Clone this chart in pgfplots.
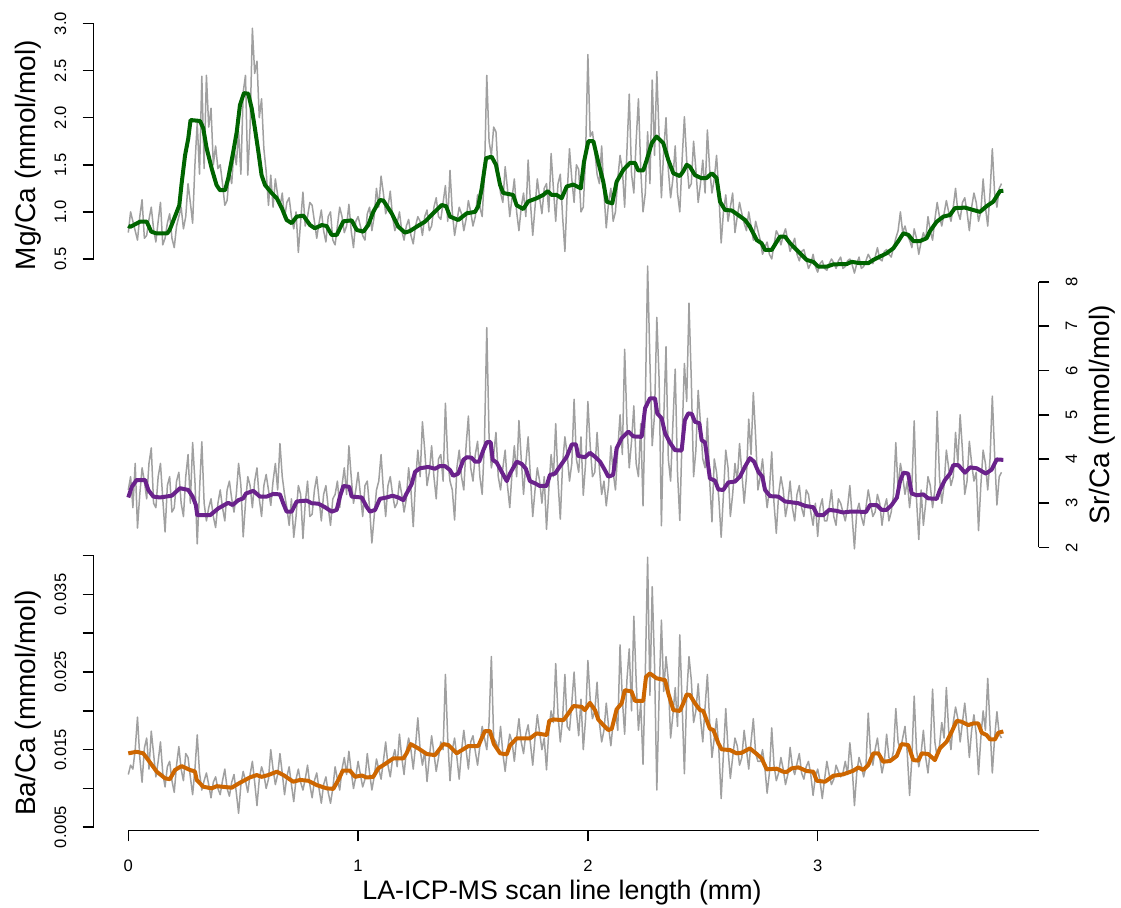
\documentclass[border=0pt]{standalone}
\usepackage{pgfplots}
\pgfplotsset{compat=1.18}
\usepackage{fontspec}
\setmainfont{Liberation Sans}
\definecolor{mggreen}{HTML}{006400}
\definecolor{srpurple}{HTML}{6A228B}
\definecolor{baorange}{HTML}{CD6600}
\definecolor{rawgrey}{HTML}{A0A0A0}
\pgfplotsset{
  base/.style={
    scale only axis, clip=false, enlargelimits=false,
    axis line style={-, line width=0.8pt, black},
    tick style={line width=0.8pt, black},
    major tick length=5.4pt,
    tick align=outside,
    ticklabel style={font=\fontsize{8.3}{10}\selectfont},
  },
  greyline/.style={rawgrey, line width=0.75pt, mark=none, line join=round},
  smoothline/.style={line width=2pt, mark=none, line join=round},
}
\begin{document}
\begin{tikzpicture}
\useasboundingbox (0,0) rectangle (560.5pt,454pt);
% ---------------- Mg/Ca ----------------
\begin{axis}[base,
  at={(46.75pt,324.5pt)}, anchor=south west,
  width=472.5pt, height=117.75pt,
  xmin=-0.1514, xmax=3.961, ymin=0.5, ymax=3.0,
  axis x line=none, axis y line*=left,
  ytick={0.5,1.0,1.5,2.0,2.5,3.0},
  yticklabels={\mbox{0.5},\mbox{1.0},\mbox{1.5},\mbox{2.0},\mbox{2.5},\mbox{3.0}},
  yticklabel style={rotate=90, anchor=south, inner sep=0pt},
  yticklabel shift=8pt,
]
\addplot[greyline] coordinates {
(0.00,0.78)(0.01,1.00)(0.02,0.90)(0.03,0.80)(0.04,0.70)(0.05,0.95)(0.06,1.13)(0.07,0.72)(0.08,0.75)(0.09,0.92)
(0.10,1.05)(0.11,0.82)(0.12,0.68)(0.13,0.90)(0.14,1.10)(0.15,0.65)(0.16,0.72)(0.17,0.88)(0.18,0.98)(0.19,0.72)
(0.20,0.62)(0.21,0.85)(0.22,0.95)(0.23,1.05)(0.24,0.82)(0.25,0.95)(0.26,1.30)(0.27,1.10)(0.28,0.88)(0.29,1.50)
(0.30,1.95)(0.31,1.40)(0.32,2.44)(0.33,1.46)(0.34,2.45)(0.35,1.90)(0.36,2.10)(0.37,1.50)(0.38,1.70)(0.39,1.46)
(0.40,1.50)(0.41,1.30)(0.42,1.07)(0.43,1.12)(0.44,1.43)(0.45,1.30)(0.46,1.67)(0.47,1.50)(0.48,1.85)(0.49,1.40)
(0.50,2.27)(0.51,2.45)(0.52,1.39)(0.53,1.90)(0.54,2.95)(0.55,2.47)(0.56,2.60)(0.57,2.00)(0.58,2.20)(0.59,1.67)
(0.60,1.43)(0.61,1.07)(0.62,1.39)(0.63,1.05)(0.64,1.35)(0.65,1.18)(0.66,1.05)(0.67,1.20)(0.68,0.93)(0.69,1.10)
(0.70,1.15)(0.71,0.95)(0.72,0.82)(0.73,1.00)(0.74,0.57)(0.75,0.90)(0.76,1.21)(0.77,0.85)(0.78,0.95)(0.79,1.10)
(0.80,1.07)(0.81,0.90)(0.82,0.72)(0.83,0.88)(0.84,1.02)(0.85,0.80)(0.86,0.68)(0.87,0.95)(0.88,1.00)(0.89,0.70)
(0.90,0.65)(0.91,0.85)(0.92,1.05)(0.93,0.95)(0.94,0.78)(0.95,0.85)(0.96,1.08)(0.97,0.80)(0.98,0.62)(0.99,0.90)
(1.00,0.95)(1.01,0.85)(1.02,0.75)(1.03,0.70)(1.04,0.98)(1.05,1.05)(1.06,0.80)(1.07,0.95)(1.08,1.25)(1.09,1.05)
(1.10,1.38)(1.11,1.20)(1.12,0.98)(1.13,1.05)(1.14,1.22)(1.15,0.95)(1.16,0.80)(1.17,0.88)(1.18,1.00)(1.19,0.80)
(1.20,0.70)(1.21,0.85)(1.22,0.92)(1.23,0.75)(1.24,0.66)(1.25,0.85)(1.26,0.95)(1.27,0.90)(1.28,0.75)(1.29,0.95)
(1.30,1.02)(1.31,0.80)(1.32,0.85)(1.33,1.05)(1.34,1.15)(1.35,0.95)(1.36,0.92)(1.37,1.10)(1.38,1.28)(1.39,0.90)
(1.40,1.44)(1.41,1.00)(1.42,0.75)(1.43,0.90)(1.44,1.05)(1.45,0.98)(1.46,0.80)(1.47,0.92)(1.48,1.12)(1.49,1.00)
(1.50,0.85)(1.51,0.95)(1.52,1.18)(1.53,1.05)(1.54,0.95)(1.55,1.40)(1.56,2.45)(1.57,1.75)(1.58,1.60)(1.59,1.90)
(1.60,1.85)(1.61,1.40)(1.62,1.20)(1.63,1.10)(1.64,1.48)(1.65,1.25)(1.66,0.95)(1.67,1.15)(1.68,1.35)(1.69,1.00)
(1.70,0.80)(1.71,1.05)(1.72,1.20)(1.73,0.95)(1.74,1.55)(1.75,1.10)(1.76,0.75)(1.77,1.05)(1.78,1.35)(1.79,1.15)
(1.80,0.98)(1.81,1.25)(1.82,1.30)(1.83,1.00)(1.84,1.62)(1.85,1.25)(1.86,0.90)(1.87,1.30)(1.88,1.40)(1.89,0.95)
(1.90,0.58)(1.91,1.20)(1.92,1.67)(1.93,1.35)(1.94,1.10)(1.95,1.50)(1.96,1.45)(1.97,1.00)(1.98,1.05)(1.99,1.60)
(2.00,2.67)(2.01,1.80)(2.02,1.85)(2.03,1.65)(2.04,1.40)(2.05,1.30)(2.06,1.70)(2.07,1.20)(2.08,0.83)(2.09,1.10)
(2.10,1.25)(2.11,0.90)(2.12,1.00)(2.13,1.35)(2.14,1.60)(2.15,1.45)(2.16,1.05)(2.17,1.65)(2.18,2.25)(2.19,1.40)
(2.20,1.20)(2.21,1.75)(2.22,2.20)(2.23,1.45)(2.24,1.00)(2.25,1.20)(2.26,1.85)(2.27,1.30)(2.28,2.40)(2.29,1.60)
(2.30,2.49)(2.31,1.80)(2.32,1.15)(2.33,1.65)(2.34,2.00)(2.35,1.45)(2.36,1.15)(2.37,1.35)(2.38,1.70)(2.39,1.20)
(2.40,1.00)(2.41,1.55)(2.42,2.01)(2.43,1.55)(2.44,1.25)(2.45,1.30)(2.46,1.75)(2.47,1.45)(2.48,1.10)(2.49,1.30)
(2.50,1.55)(2.51,1.20)(2.52,1.87)(2.53,1.45)(2.54,1.20)(2.55,1.35)(2.56,1.60)(2.57,1.20)(2.58,0.67)(2.59,1.00)
(2.60,1.18)(2.61,0.90)(2.62,1.05)(2.63,1.20)(2.64,0.78)(2.65,0.95)(2.66,1.10)(2.67,0.98)(2.68,0.88)(2.69,0.80)
(2.70,1.00)(2.71,0.85)(2.72,0.70)(2.73,0.90)(2.74,0.80)(2.75,0.70)(2.76,0.55)(2.77,0.62)(2.78,0.68)(2.79,0.55)
(2.80,0.50)(2.81,0.65)(2.82,0.80)(2.83,0.75)(2.84,0.65)(2.85,0.75)(2.86,0.82)(2.87,0.70)(2.88,0.58)(2.89,0.65)
(2.90,0.72)(2.91,0.55)(2.92,0.48)(2.93,0.58)(2.94,0.60)(2.95,0.50)(2.96,0.40)(2.97,0.45)(2.98,0.55)(2.99,0.42)
(3.00,0.36)(3.01,0.45)(3.02,0.48)(3.03,0.40)(3.04,0.38)(3.05,0.45)(3.06,0.50)(3.07,0.46)(3.08,0.40)(3.09,0.48)
(3.10,0.52)(3.11,0.40)(3.12,0.42)(3.13,0.48)(3.14,0.50)(3.15,0.44)(3.16,0.35)(3.17,0.45)(3.18,0.52)(3.19,0.40)
(3.20,0.42)(3.21,0.48)(3.22,0.55)(3.23,0.50)(3.24,0.45)(3.25,0.52)(3.26,0.62)(3.27,0.50)(3.28,0.48)(3.29,0.58)
(3.30,0.60)(3.31,0.55)(3.32,0.52)(3.33,0.62)(3.34,0.72)(3.35,0.80)(3.36,1.00)(3.37,0.78)(3.38,0.85)(3.39,0.75)
(3.40,0.70)(3.41,0.62)(3.42,0.82)(3.43,0.72)(3.44,0.55)(3.45,0.68)(3.46,0.78)(3.47,0.70)(3.48,0.95)(3.49,0.80)
(3.50,0.70)(3.51,0.92)(3.52,1.10)(3.53,0.95)(3.54,0.85)(3.55,0.98)(3.56,1.12)(3.57,1.00)(3.58,0.90)(3.59,1.05)
(3.60,1.25)(3.61,1.00)(3.62,0.92)(3.63,1.10)(3.64,1.15)(3.65,1.00)(3.66,0.80)(3.67,1.05)(3.68,1.20)(3.69,1.10)
(3.70,0.90)(3.71,1.00)(3.72,1.35)(3.73,1.05)(3.74,0.85)(3.75,1.20)(3.76,1.67)(3.77,1.20)(3.78,1.05)(3.79,1.25)
(3.80,1.30)
};
\addplot[smoothline, mggreen] coordinates {
(0,0.853)(0.008,0.84)(0.051,0.896)(0.08,0.896)(0.10,0.79)(0.12,0.773)(0.17,0.773)(0.18,0.808)(0.203,0.95)(0.222,1.07)
(0.232,1.30)(0.247,1.60)(0.261,1.78)(0.271,1.975)(0.312,1.965)(0.326,1.89)(0.341,1.675)(0.363,1.46)(0.384,1.285)(0.399,1.23)
(0.421,1.23)(0.435,1.357)(0.457,1.64)(0.472,1.85)(0.486,2.135)(0.503,2.26)(0.522,2.255)(0.537,2.10)(0.551,1.887)(0.566,1.64)
(0.580,1.39)(0.595,1.285)(0.624,1.20)(0.646,1.145)(0.668,1.04)(0.689,0.914)(0.711,0.88)(0.733,0.95)(0.762,0.96)(0.791,0.86)
(0.812,0.826)(0.842,0.86)(0.863,0.85)(0.885,0.755)(0.907,0.755)(0.936,0.90)(0.972,0.91)(0.994,0.808)(1.023,0.79)(1.044,0.86)
(1.066,1.00)(1.095,1.126)(1.11,1.12)(1.146,0.985)(1.175,0.843)(1.204,0.78)(1.226,0.797)(1.255,0.843)(1.291,0.896)(1.327,0.985)
(1.364,1.073)(1.383,1.06)(1.40,0.95)(1.436,0.914)(1.473,0.985)(1.509,1.00)(1.523,1.06)(1.538,1.25)(1.557,1.57)(1.581,1.586)
(1.60,1.50)(1.618,1.285)(1.632,1.20)(1.675,1.18)(1.69,1.07)(1.719,1.03)(1.74,1.11)(1.777,1.145)(1.806,1.18)(1.825,1.22)
(1.842,1.18)(1.864,1.18)(1.886,1.145)(1.908,1.27)(1.937,1.29)(1.969,1.25)(1.983,1.53)(2.002,1.75)(2.024,1.75)(2.045,1.53)
(2.067,1.32)(2.082,1.108)(2.106,1.09)(2.125,1.32)(2.154,1.445)(2.183,1.52)(2.205,1.52)(2.219,1.44)(2.241,1.44)(2.256,1.55)
(2.278,1.73)(2.299,1.80)(2.328,1.73)(2.35,1.55)(2.372,1.41)(2.40,1.38)(2.415,1.43)(2.43,1.50)(2.444,1.48)(2.466,1.39)
(2.495,1.357)(2.517,1.36)(2.539,1.41)(2.56,1.36)(2.575,1.108)(2.597,1.02)(2.626,1.015)(2.654,0.967)(2.684,0.914)(2.705,0.843)
(2.735,0.70)(2.756,0.667)(2.771,0.596)(2.80,0.596)(2.822,0.684)(2.836,0.737)(2.858,0.737)(2.88,0.667)(2.916,0.578)(2.952,0.49)
(2.981,0.47)(3.003,0.418)(3.039,0.418)(3.068,0.443)(3.126,0.446)(3.148,0.47)(3.184,0.455)(3.22,0.455)(3.242,0.49)(3.271,0.525)
(3.30,0.56)(3.329,0.613)(3.351,0.69)(3.373,0.773)(3.395,0.755)(3.416,0.69)(3.445,0.69)(3.474,0.72)(3.489,0.797)(3.518,0.896)
(3.547,0.95)(3.576,0.967)(3.597,1.04)(3.641,1.045)(3.663,1.03)(3.706,1.00)(3.735,1.06)(3.764,1.108)(3.793,1.22)(3.808,1.225)
};
\end{axis}
% ---------------- Sr/Ca ----------------
\begin{axis}[base,
  at={(64.15pt,180.25pt)}, anchor=south west,
  width=455.1pt, height=132.75pt,
  xmin=0, xmax=3.961, ymin=2, ymax=8,
  axis x line=none, axis y line*=right,
  ytick={2,3,4,5,6,7,8},
  yticklabels={\mbox{2},\mbox{3},\mbox{4},\mbox{5},\mbox{6},\mbox{7},\mbox{8}},
  yticklabel style={rotate=90, anchor=north, inner sep=0pt},
  yticklabel shift=8pt,
]
\addplot[greyline] coordinates {
(0.00,3.3)(0.01,3.6)(0.02,2.9)(0.03,3.9)(0.04,2.44)(0.05,3.2)(0.06,3.8)(0.07,3.5)(0.08,3.1)(0.09,3.9)
(0.10,4.25)(0.11,3.0)(0.12,2.9)(0.13,3.6)(0.14,3.9)(0.15,3.1)(0.16,2.35)(0.17,3.4)(0.18,3.6)(0.19,2.8)
(0.20,2.9)(0.21,3.5)(0.22,3.7)(0.23,3.0)(0.24,2.7)(0.25,3.6)(0.26,4.1)(0.27,3.0)(0.28,4.37)(0.29,3.5)
(0.30,2.08)(0.31,3.3)(0.32,4.39)(0.33,3.0)(0.34,2.6)(0.35,2.9)(0.36,3.1)(0.37,2.7)(0.38,2.45)(0.39,3.0)
(0.40,3.3)(0.41,2.9)(0.42,2.6)(0.43,3.3)(0.44,3.5)(0.45,3.1)(0.46,2.8)(0.47,3.2)(0.48,3.9)(0.49,3.4)
(0.50,2.24)(0.51,3.0)(0.52,3.6)(0.53,3.4)(0.54,2.9)(0.55,3.5)(0.56,3.8)(0.57,3.1)(0.58,2.7)(0.59,3.4)
(0.60,3.65)(0.61,3.3)(0.62,2.95)(0.63,3.5)(0.64,3.9)(0.65,3.3)(0.66,4.35)(0.67,3.6)(0.68,3.2)(0.69,2.9)
(0.70,2.5)(0.71,3.1)(0.72,2.23)(0.73,2.7)(0.74,3.4)(0.75,3.2)(0.76,2.2)(0.77,3.0)(0.78,3.5)(0.79,2.7)
(0.80,2.75)(0.81,3.3)(0.82,3.6)(0.83,3.1)(0.84,2.6)(0.85,3.2)(0.86,3.4)(0.87,2.9)(0.88,2.5)(0.89,3.1)
(0.90,3.2)(0.91,3.5)(0.92,2.9)(0.93,3.4)(0.94,3.8)(0.95,3.2)(0.96,4.30)(0.97,3.6)(0.98,3.0)(0.99,3.3)
(1.00,3.7)(1.01,3.2)(1.02,2.7)(1.03,3.4)(1.04,3.5)(1.05,2.9)(1.06,2.1)(1.07,2.7)(1.08,3.3)(1.09,3.5)
(1.10,4.1)(1.11,3.3)(1.12,2.7)(1.13,3.4)(1.14,3.6)(1.15,3.2)(1.16,2.9)(1.17,3.0)(1.18,3.5)(1.19,3.2)
(1.20,2.8)(1.21,3.1)(1.22,3.8)(1.23,3.3)(1.24,2.47)(1.25,3.5)(1.26,4.2)(1.27,3.6)(1.28,4.84)(1.29,4.2)
(1.30,3.4)(1.31,3.7)(1.32,4.3)(1.33,3.6)(1.34,3.1)(1.35,4.0)(1.36,4.1)(1.37,3.5)(1.38,5.26)(1.39,4.0)
(1.40,3.5)(1.41,3.3)(1.42,2.62)(1.43,3.8)(1.44,4.2)(1.45,3.6)(1.46,3.3)(1.47,4.3)(1.48,4.97)(1.49,3.8)
(1.50,3.5)(1.51,4.1)(1.52,4.4)(1.53,3.6)(1.54,3.2)(1.55,4.4)(1.56,6.97)(1.57,4.5)(1.58,3.8)(1.59,4.1)
(1.60,4.6)(1.61,3.6)(1.62,3.3)(1.63,3.8)(1.64,4.2)(1.65,3.4)(1.66,2.9)(1.67,3.7)(1.68,4.3)(1.69,3.6)
(1.70,4.87)(1.71,4.0)(1.72,3.2)(1.73,3.9)(1.74,4.5)(1.75,3.6)(1.76,2.70)(1.77,3.3)(1.78,3.8)(1.79,3.5)
(1.80,3.0)(1.81,3.6)(1.82,2.41)(1.83,3.3)(1.84,4.1)(1.85,3.6)(1.86,4.8)(1.87,3.5)(1.88,2.64)(1.89,3.9)
(1.90,4.5)(1.91,4.1)(1.92,3.5)(1.93,3.9)(1.94,5.35)(1.95,4.0)(1.96,3.7)(1.97,4.5)(1.98,3.18)(1.99,3.9)
(2.00,5.3)(2.01,4.3)(2.02,3.6)(2.03,3.7)(2.04,4.6)(2.05,3.8)(2.06,3.2)(2.07,3.5)(2.08,2.94)(2.09,3.4)
(2.10,4.3)(2.11,3.7)(2.12,3.3)(2.13,4.2)(2.14,5.0)(2.15,4.1)(2.16,6.48)(2.17,4.8)(2.18,3.8)(2.19,4.4)
(2.20,5.2)(2.21,3.9)(2.22,3.6)(2.23,4.8)(2.24,2.94)(2.25,5.3)(2.26,8.36)(2.27,6.2)(2.28,4.3)(2.29,5.0)
(2.30,7.2)(2.31,5.8)(2.32,2.49)(2.33,4.9)(2.34,6.54)(2.35,4.0)(2.36,3.5)(2.37,4.8)(2.38,6.03)(2.39,3.7)
(2.40,2.61)(2.41,4.5)(2.42,6.16)(2.43,5.3)(2.44,7.52)(2.45,5.8)(2.46,3.6)(2.47,4.2)(2.48,5.55)(2.49,4.8)
(2.50,4.0)(2.51,3.8)(2.52,4.92)(2.53,3.5)(2.54,2.58)(2.55,4.0)(2.56,3.7)(2.57,3.1)(2.58,2.23)(2.59,3.2)
(2.60,4.2)(2.61,3.8)(2.62,2.7)(2.63,3.2)(2.64,3.9)(2.65,3.5)(2.66,4.35)(2.67,3.7)(2.68,3.0)(2.69,3.6)
(2.70,4.9)(2.71,4.1)(2.72,5.5)(2.73,4.5)(2.74,3.3)(2.75,3.6)(2.76,4.0)(2.77,3.4)(2.78,2.9)(2.79,3.3)
(2.80,4.16)(2.81,3.0)(2.82,2.32)(2.83,3.2)(2.84,3.6)(2.85,3.3)(2.86,2.7)(2.87,3.0)(2.88,3.5)(2.89,2.9)
(2.90,2.6)(2.91,3.2)(2.92,3.4)(2.93,2.9)(2.94,2.7)(2.95,3.3)(2.96,3.2)(2.97,2.8)(2.98,2.5)(2.99,3.0)
(3.00,2.25)(3.01,2.9)(3.02,3.1)(3.03,2.6)(3.04,2.6)(3.05,2.9)(3.06,3.3)(3.07,2.7)(3.08,2.5)(3.09,3.1)
(3.10,3.0)(3.11,2.8)(3.12,2.6)(3.13,2.9)(3.14,3.4)(3.15,2.7)(3.16,1.97)(3.17,2.8)(3.18,3.0)(3.19,2.7)
(3.20,2.5)(3.21,2.9)(3.22,3.3)(3.23,3.0)(3.24,2.7)(3.25,2.8)(3.26,3.2)(3.27,3.0)(3.28,2.5)(3.29,2.9)
(3.30,3.1)(3.31,2.6)(3.32,2.8)(3.33,3.2)(3.34,4.37)(3.35,3.3)(3.36,3.9)(3.37,3.6)(3.38,3.2)(3.39,3.5)
(3.40,2.9)(3.41,3.4)(3.42,4.86)(3.43,3.1)(3.44,2.18)(3.45,3.3)(3.46,2.5)(3.47,3.0)(3.48,3.6)(3.49,3.4)
(3.50,2.9)(3.51,3.3)(3.52,5.08)(3.53,3.6)(3.54,3.0)(3.55,3.4)(3.56,4.2)(3.57,3.8)(3.58,3.4)(3.59,3.6)
(3.60,4.6)(3.61,3.9)(3.62,5.0)(3.63,4.2)(3.64,3.2)(3.65,3.5)(3.66,4.4)(3.67,3.9)(3.68,3.5)(3.69,3.7)
(3.70,2.38)(3.71,3.4)(3.72,4.2)(3.73,3.9)(3.74,3.3)(3.75,4.0)(3.76,5.42)(3.77,4.1)(3.78,2.96)(3.79,3.6)
(3.80,3.7)
};
\addplot[smoothline, srpurple] coordinates {
(0,3.13)(0.015,3.37)(0.036,3.525)(0.073,3.525)(0.087,3.30)(0.109,3.15)(0.138,3.13)(0.189,3.17)(0.225,3.34)(0.261,3.30)
(0.28,3.15)(0.294,2.96)(0.30,2.73)(0.356,2.73)(0.392,2.885)(0.435,3.01)(0.454,2.96)(0.479,3.07)(0.50,3.11)(0.512,3.22)
(0.544,3.28)(0.573,3.15)(0.602,3.15)(0.631,3.21)(0.66,3.20)(0.674,3.0)(0.689,2.81)(0.711,2.81)(0.733,3.04)(0.776,3.06)
(0.798,3.0)(0.827,2.99)(0.856,2.91)(0.885,2.81)(0.907,2.85)(0.921,3.15)(0.936,3.39)(0.962,3.37)(0.972,3.15)(1.016,3.13)
(1.037,2.92)(1.052,2.81)(1.074,2.85)(1.095,3.10)(1.124,3.13)(1.15,3.17)(1.175,3.13)(1.197,3.07)(1.211,3.22)(1.233,3.43)
(1.248,3.71)(1.269,3.79)(1.305,3.82)(1.335,3.78)(1.356,3.84)(1.378,3.84)(1.40,3.75)(1.414,3.62)(1.436,3.67)(1.458,3.98)
(1.473,4.04)(1.494,4.03)(1.509,3.94)(1.527,3.94)(1.545,4.20)(1.56,4.38)(1.577,4.38)(1.586,3.98)(1.603,3.92)(1.625,3.71)
(1.647,3.50)(1.661,3.67)(1.69,3.94)(1.712,3.89)(1.73,3.78)(1.748,3.50)(1.77,3.45)(1.791,3.39)(1.82,3.39)(1.835,3.64)
(1.857,3.67)(1.878,3.83)(1.908,4.05)(1.93,4.33)(1.948,4.33)(1.958,4.07)(1.987,4.04)(2.009,4.14)(2.031,4.05)(2.053,3.94)
(2.074,3.75)(2.089,3.60)(2.11,3.64)(2.125,4.24)(2.147,4.47)(2.176,4.62)(2.198,4.51)(2.234,4.50)(2.249,5.15)(2.27,5.37)
(2.292,5.37)(2.302,5.03)(2.321,4.92)(2.336,4.58)(2.357,4.37)(2.379,4.20)(2.408,4.19)(2.422,4.88)(2.437,5.03)(2.452,5.02)
(2.466,4.84)(2.485,4.81)(2.495,4.43)(2.51,4.37)(2.531,3.56)(2.553,3.51)(2.568,3.31)(2.589,3.30)(2.611,3.47)(2.64,3.49)
(2.662,3.60)(2.684,3.83)(2.705,4.02)(2.723,3.94)(2.742,3.71)(2.759,3.60)(2.771,3.30)(2.793,3.16)(2.829,3.15)(2.858,3.04)
(2.916,3.0)(2.945,2.94)(2.981,2.91)(2.998,2.73)(3.024,2.73)(3.05,2.85)(3.08,2.83)(3.111,2.79)(3.141,2.81)(3.177,2.81)
(3.21,2.80)(3.228,2.96)(3.257,2.96)(3.278,2.85)(3.30,2.85)(3.322,2.96)(3.345,3.13)(3.358,3.49)(3.373,3.69)(3.394,3.67)
(3.409,3.22)(3.431,3.18)(3.46,3.20)(3.481,3.11)(3.518,3.10)(3.532,3.30)(3.554,3.525)(3.576,3.67)(3.59,3.86)(3.612,3.86)
(3.641,3.69)(3.663,3.81)(3.692,3.79)(3.732,3.67)(3.757,3.76)(3.779,3.99)(3.808,3.98)
};
\end{axis}
% ---------------- Ba/Ca ----------------
\begin{axis}[base,
  at={(46.75pt,40.35pt)}, anchor=south west,
  width=472.5pt, height=135.8pt,
  xmin=-0.1514, xmax=3.961, ymin=0.005, ymax=0.040,
  axis x line=none, axis y line*=left,
  ytick={0.005,0.010,0.015,0.020,0.025,0.030,0.035,0.040},
  yticklabels={\mbox{0.005},,\mbox{0.015},,\mbox{0.025},,\mbox{0.035},},
  yticklabel style={rotate=90, anchor=south, inner sep=0pt},
  yticklabel shift=8pt,
  scaled y ticks=false,
]
\addplot[greyline] coordinates {
(0.00,0.0118)(0.01,0.0130)(0.02,0.0125)(0.03,0.0150)(0.04,0.0192)(0.05,0.0140)(0.06,0.0108)(0.07,0.0152)(0.08,0.0165)(0.09,0.0125)
(0.10,0.0174)(0.11,0.0145)(0.12,0.0115)(0.13,0.0135)(0.14,0.0160)(0.15,0.0120)(0.16,0.0102)(0.17,0.0128)(0.18,0.0135)(0.19,0.0110)
(0.20,0.0095)(0.21,0.0130)(0.22,0.0154)(0.23,0.0125)(0.24,0.0110)(0.25,0.0145)(0.26,0.0140)(0.27,0.0115)(0.28,0.0092)(0.29,0.0125)
(0.30,0.0169)(0.31,0.0120)(0.32,0.0098)(0.33,0.0110)(0.34,0.0120)(0.35,0.0105)(0.36,0.0088)(0.37,0.0108)(0.38,0.0115)(0.39,0.0100)
(0.40,0.0092)(0.41,0.0110)(0.42,0.0125)(0.43,0.0100)(0.44,0.0090)(0.45,0.0108)(0.46,0.0118)(0.47,0.0095)(0.48,0.0068)(0.49,0.0105)
(0.50,0.0122)(0.51,0.0110)(0.52,0.0095)(0.53,0.0118)(0.54,0.0135)(0.55,0.0108)(0.56,0.0078)(0.57,0.0112)(0.58,0.0128)(0.59,0.0118)
(0.60,0.0100)(0.61,0.0112)(0.62,0.0150)(0.63,0.0125)(0.64,0.0105)(0.65,0.0118)(0.66,0.0145)(0.67,0.0120)(0.68,0.0092)(0.69,0.0115)
(0.70,0.0128)(0.71,0.0105)(0.72,0.0083)(0.73,0.0112)(0.74,0.0125)(0.75,0.0108)(0.76,0.0098)(0.77,0.0112)(0.78,0.0130)(0.79,0.0105)
(0.80,0.0088)(0.81,0.0110)(0.82,0.0120)(0.83,0.0100)(0.84,0.0081)(0.85,0.0105)(0.86,0.0115)(0.87,0.0095)(0.88,0.0081)(0.89,0.0100)
(0.90,0.0128)(0.91,0.0112)(0.92,0.0098)(0.93,0.0125)(0.94,0.0140)(0.95,0.0118)(0.96,0.0148)(0.97,0.0122)(0.98,0.0100)(0.99,0.0115)
(1.00,0.0135)(1.01,0.0118)(1.02,0.0102)(1.03,0.0112)(1.04,0.0145)(1.05,0.0120)(1.06,0.0098)(1.07,0.0115)(1.08,0.0138)(1.09,0.0125)
(1.10,0.0112)(1.11,0.0135)(1.12,0.0160)(1.13,0.0130)(1.14,0.0115)(1.15,0.0138)(1.16,0.0150)(1.17,0.0128)(1.18,0.0170)(1.19,0.0140)
(1.20,0.0118)(1.21,0.0148)(1.22,0.0165)(1.23,0.0150)(1.24,0.0125)(1.25,0.0155)(1.26,0.0191)(1.27,0.0150)(1.28,0.0130)(1.29,0.0148)
(1.30,0.0109)(1.31,0.0140)(1.32,0.0168)(1.33,0.0145)(1.34,0.0122)(1.35,0.0140)(1.36,0.0160)(1.37,0.0150)(1.38,0.0247)(1.39,0.0165)
(1.40,0.0110)(1.41,0.0150)(1.42,0.0165)(1.43,0.0140)(1.44,0.0112)(1.45,0.0148)(1.46,0.0175)(1.47,0.0150)(1.48,0.0125)(1.49,0.0160)
(1.50,0.0168)(1.51,0.0148)(1.52,0.0130)(1.53,0.0155)(1.54,0.0180)(1.55,0.0165)(1.56,0.0150)(1.57,0.0185)(1.58,0.0270)(1.59,0.0165)
(1.60,0.0160)(1.61,0.0150)(1.62,0.0180)(1.63,0.0145)(1.64,0.0122)(1.65,0.0150)(1.66,0.0170)(1.67,0.0160)(1.68,0.0135)(1.69,0.0165)
(1.70,0.0190)(1.71,0.0160)(1.72,0.0145)(1.73,0.0170)(1.74,0.0182)(1.75,0.0158)(1.76,0.0130)(1.77,0.0165)(1.78,0.0195)(1.79,0.0172)
(1.80,0.0150)(1.81,0.0165)(1.82,0.0124)(1.83,0.0175)(1.84,0.0200)(1.85,0.0185)(1.86,0.0261)(1.87,0.0195)(1.88,0.0160)(1.89,0.0190)
(1.90,0.0247)(1.91,0.0180)(1.92,0.0175)(1.93,0.0210)(1.94,0.0250)(1.95,0.0200)(1.96,0.0168)(1.97,0.0215)(1.98,0.0150)(1.99,0.0190)
(2.00,0.0265)(2.01,0.0215)(2.02,0.0190)(2.03,0.0200)(2.04,0.0237)(2.05,0.0185)(2.06,0.0160)(2.07,0.0175)(2.08,0.0210)(2.09,0.0180)
(2.10,0.0155)(2.11,0.0185)(2.12,0.0200)(2.13,0.0175)(2.14,0.0285)(2.15,0.0215)(2.16,0.0170)(2.17,0.0240)(2.18,0.0280)(2.19,0.0200)
(2.20,0.0322)(2.21,0.0240)(2.22,0.0175)(2.23,0.0210)(2.24,0.0131)(2.25,0.0250)(2.26,0.0398)(2.27,0.0220)(2.28,0.0360)(2.29,0.0260)
(2.30,0.0098)(2.31,0.0220)(2.32,0.0317)(2.33,0.0225)(2.34,0.0270)(2.35,0.0240)(2.36,0.0165)(2.37,0.0195)(2.38,0.0230)(2.39,0.0180)
(2.40,0.0298)(2.41,0.0210)(2.42,0.0119)(2.43,0.0220)(2.44,0.0270)(2.45,0.0240)(2.46,0.0185)(2.47,0.0200)(2.48,0.0235)(2.49,0.0190)
(2.50,0.0160)(2.51,0.0205)(2.52,0.0247)(2.53,0.0185)(2.54,0.0140)(2.55,0.0165)(2.56,0.0190)(2.57,0.0150)(2.58,0.0087)(2.59,0.0145)
(2.60,0.0203)(2.61,0.0150)(2.62,0.0113)(2.63,0.0140)(2.64,0.0165)(2.65,0.0155)(2.66,0.0130)(2.67,0.0140)(2.68,0.0175)(2.69,0.0150)
(2.70,0.0125)(2.71,0.0160)(2.72,0.0190)(2.73,0.0145)(2.74,0.0135)(2.75,0.0135)(2.76,0.0150)(2.77,0.0128)(2.78,0.0094)(2.79,0.0120)
(2.80,0.0178)(2.81,0.0130)(2.82,0.0110)(2.83,0.0120)(2.84,0.0140)(2.85,0.0125)(2.86,0.0105)(2.87,0.0118)(2.88,0.0153)(2.89,0.0128)
(2.90,0.0118)(2.91,0.0132)(2.92,0.0145)(2.93,0.0120)(2.94,0.0112)(2.95,0.0128)(2.96,0.0135)(2.97,0.0118)(2.98,0.0091)(2.99,0.0115)
(3.00,0.0125)(3.01,0.0110)(3.02,0.0087)(3.03,0.0112)(3.04,0.0135)(3.05,0.0118)(3.06,0.0105)(3.07,0.0112)(3.08,0.0130)(3.09,0.0122)
(3.10,0.0115)(3.11,0.0120)(3.12,0.0135)(3.13,0.0118)(3.14,0.0159)(3.15,0.0128)(3.16,0.0078)(3.17,0.0120)(3.18,0.0140)(3.19,0.0130)
(3.20,0.0115)(3.21,0.0128)(3.22,0.0197)(3.23,0.0145)(3.24,0.0130)(3.25,0.0150)(3.26,0.0165)(3.27,0.0140)(3.28,0.0120)(3.29,0.0135)
(3.30,0.0170)(3.31,0.0140)(3.32,0.0135)(3.33,0.0148)(3.34,0.0203)(3.35,0.0160)(3.36,0.0150)(3.37,0.0165)(3.38,0.0180)(3.39,0.0145)
(3.40,0.0091)(3.41,0.0140)(3.42,0.0219)(3.43,0.0150)(3.44,0.0128)(3.45,0.0145)(3.46,0.0175)(3.47,0.0140)(3.48,0.0120)(3.49,0.0150)
(3.50,0.0228)(3.51,0.0160)(3.52,0.0140)(3.53,0.0155)(3.54,0.0185)(3.55,0.0165)(3.56,0.0230)(3.57,0.0175)(3.58,0.0150)(3.59,0.0185)
(3.60,0.0205)(3.61,0.0190)(3.62,0.0160)(3.63,0.0185)(3.64,0.0210)(3.65,0.0180)(3.66,0.0140)(3.67,0.0175)(3.68,0.0195)(3.69,0.0170)
(3.70,0.0118)(3.71,0.0165)(3.72,0.0200)(3.73,0.0175)(3.74,0.0242)(3.75,0.0180)(3.76,0.0120)(3.77,0.0165)(3.78,0.0199)(3.79,0.0170)
(3.80,0.0165)
};
\addplot[smoothline, baorange] coordinates {
(0,0.01453)(0.036,0.01473)(0.065,0.01453)(0.087,0.01366)(0.124,0.01216)(0.16,0.01131)(0.181,0.0112)(0.203,0.01238)(0.232,0.01289)(0.269,0.01238)
(0.29,0.0122)(0.298,0.01109)(0.326,0.01023)(0.363,0.01002)(0.385,0.0103)(0.45,0.0101)(0.486,0.01074)(0.53,0.01144)(0.559,0.01173)(0.58,0.0115)
(0.609,0.01173)(0.646,0.01216)(0.675,0.01173)(0.718,0.01087)(0.747,0.0111)(0.783,0.011)(0.82,0.01044)(0.863,0.01002)(0.892,0.00995)(0.914,0.01109)
(0.933,0.01229)(0.965,0.01229)(0.987,0.0115)(1.016,0.01168)(1.037,0.01142)(1.066,0.0115)(1.088,0.0126)(1.117,0.01315)(1.153,0.01388)(1.197,0.01388)
(1.211,0.01453)(1.229,0.01572)(1.262,0.01517)(1.299,0.01444)(1.335,0.0143)(1.371,0.01572)(1.393,0.0156)(1.429,0.01453)(1.48,0.01547)(1.523,0.01547)
(1.552,0.0174)(1.574,0.0174)(1.591,0.01572)(1.618,0.01453)(1.647,0.0144)(1.661,0.01555)(1.69,0.01646)(1.748,0.01646)(1.777,0.0171)(1.821,0.01689)
(1.832,0.01872)(1.85,0.0189)(1.893,0.0188)(1.915,0.01967)(1.937,0.02062)(1.973,0.02053)(1.987,0.0201)(2.009,0.02104)(2.031,0.0201)(2.045,0.0189)
(2.067,0.01817)(2.089,0.01753)(2.104,0.0177)(2.125,0.0202)(2.147,0.02097)(2.161,0.02267)(2.19,0.0225)(2.205,0.0213)(2.241,0.0213)(2.253,0.02439)
(2.27,0.02483)(2.299,0.0242)(2.336,0.02396)(2.35,0.02225)(2.372,0.0201)(2.40,0.0200)(2.415,0.02097)(2.43,0.02212)(2.444,0.02205)(2.466,0.02097)
(2.488,0.0201)(2.502,0.0200)(2.517,0.01881)(2.531,0.0177)(2.546,0.01753)(2.568,0.01581)(2.582,0.01504)(2.618,0.01496)(2.647,0.01453)(2.669,0.0146)
(2.705,0.01517)(2.735,0.01444)(2.756,0.01388)(2.778,0.01247)(2.822,0.01255)(2.85,0.01216)(2.865,0.01212)(2.887,0.0126)(2.916,0.01272)(2.952,0.01225)
(2.981,0.01216)(2.996,0.011)(3.032,0.01087)(3.068,0.01164)(3.111,0.01182)(3.155,0.01229)(3.177,0.01272)(3.198,0.01238)(3.22,0.01302)(3.242,0.01453)
(3.264,0.01453)(3.285,0.01345)(3.315,0.01354)(3.344,0.01418)(3.365,0.01572)(3.394,0.0156)(3.416,0.01366)(3.438,0.0136)(3.453,0.01453)(3.481,0.01444)
(3.51,0.01366)(3.532,0.01517)(3.561,0.01602)(3.583,0.0173)(3.605,0.01872)(3.627,0.0186)(3.655,0.01817)(3.677,0.01838)(3.699,0.01838)(3.714,0.01718)
(3.735,0.01689)(3.75,0.01633)(3.772,0.01633)(3.786,0.01718)(3.808,0.01735)
};
\end{axis}
% ---------------- shared x axis ----------------
\begin{axis}[base,
  at={(64.15pt,38.75pt)}, anchor=south west,
  width=455.1pt, height=20pt,
  xmin=0, xmax=3.961, ymin=0, ymax=1,
  axis y line=none, axis x line*=bottom,
  xtick={0,1,2,3},
  xticklabels={\mbox{0},\mbox{1},\mbox{2},\mbox{3}},
  xticklabel style={anchor=north, inner sep=0pt, yshift=-9.3pt},
]
\end{axis}
\node[rotate=90, anchor=base, font=\fontsize{14}{16}\selectfont] at (17.5pt,376.5pt) {Mg/Ca (mmol/mol)};
\node[rotate=90, anchor=base, font=\fontsize{14}{16}\selectfont] at (17.5pt,102.5pt) {Ba/Ca (mmol/mol)};
\node[rotate=90, anchor=base, font=\fontsize{14}{16}\selectfont] at (554.5pt,246.5pt) {Sr/Ca (mmol/mol)};
\node[anchor=base, font=\fontsize{13.4}{16}\selectfont] at (281pt,4pt) {LA-ICP-MS scan line length (mm)};
\end{tikzpicture}
\end{document}
